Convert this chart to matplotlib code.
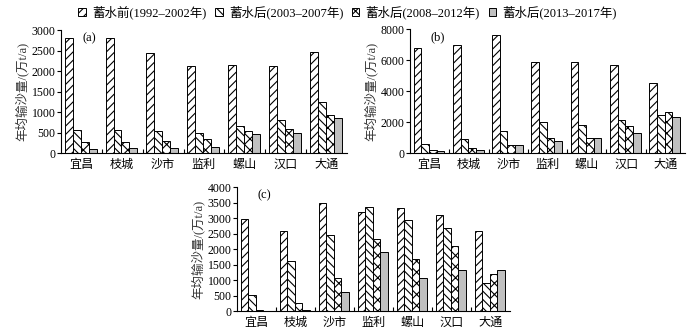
import numpy as np
import matplotlib
matplotlib.use('Agg')
from matplotlib import pyplot as plt
from matplotlib.patches import Patch

plt.rcParams['font.family'] = ['Liberation Serif', 'Noto Sans CJK SC']
plt.rcParams['hatch.linewidth'] = 0.8

# 数据
stations = ['宜昌', '枝城', '沙市', '监利', '螺山', '汉口', '大通']
periods = ['蓄水前(1992–2002年)', '蓄水后(2003–2007年)', '蓄水后(2008–2012年)', '蓄水后(2013–2017年)']

a_pre = [2800, 2810, 2450, 2130, 2160, 2130, 2470]
a_0307 = [560, 570, 540, 480, 660, 810, 1250]
a_0812 = [270, 280, 300, 330, 530, 590, 930]
a_1317 = [100, 110, 130, 140, 470, 480, 850]

b_pre = [6750, 7000, 7600, 5850, 5850, 5650, 4550]
b_0307 = [550, 900, 1450, 2000, 1800, 2150, 2450]
b_0812 = [200, 350, 500, 950, 950, 1750, 2650]
b_1317 = [100, 200, 500, 750, 1000, 1300, 2300]

c_pre = [2980, 2600, 3480, 3220, 3350, 3120, 2600]
c_0307 = [530, 1620, 2470, 3360, 2950, 2700, 900]
c_0812 = [50, 280, 1060, 2330, 1700, 2120, 1200]
c_1317 = [20, 50, 620, 1920, 1080, 1320, 1340]

hatches = ['////', '\\\\\\\\', 'xxx', '']
faces = ['white', 'white', 'white', '#c0c0c0']

fig = plt.figure(figsize=(6.95, 3.34), dpi=100)


def panel(rect, series, ymax, ystep, tag):
    ax = fig.add_axes(rect)
    x = np.arange(len(stations))
    w = 0.195
    for k, vals in enumerate(series):
        ax.bar(x - 1.5 * w + k * w - 0.02, vals, w, color=faces[k], edgecolor='black',
               hatch=hatches[k], linewidth=0.7)
    ax.set_xlim(-0.5, len(stations) - 0.5)
    ax.set_ylim(0, ymax)
    ax.set_yticks(np.arange(0, ymax + 1, ystep))
    ax.set_xticks(x)
    ax.set_xticklabels(stations, fontsize=8.7)
    ax.set_xticks(np.arange(0.5, len(stations) - 0.5), minor=True)
    ax.tick_params(axis='x', which='major', length=0, pad=4)
    ax.tick_params(axis='x', which='minor', direction='in', length=3, width=0.8)
    ax.tick_params(axis='y', direction='out', length=3, width=0.8, labelsize=8.5, pad=1)
    for s in ['top', 'right']:
        ax.spines[s].set_visible(False)
    for s in ['left', 'bottom']:
        ax.spines[s].set_linewidth(0.8)
    ax.set_ylabel('年均输沙量/(万t/a)', fontsize=9, color='#333333', labelpad=2)
    ax.text(0.075, 0.985, tag, transform=ax.transAxes, fontsize=9, va='top')
    return ax


panel([0.0878, 0.5419, 0.4115, 0.368], [a_pre, a_0307, a_0812, a_1317], 3000, 500, '(a)')
panel([0.590, 0.5419, 0.3957, 0.371], [b_pre, b_0307, b_0812, b_1317], 8000, 2000, '(b)')
panel([0.341, 0.068, 0.3928, 0.371], [c_pre, c_0307, c_0812, c_1317], 4000, 500, '(c)')

handles = [Patch(facecolor=faces[k], edgecolor='black', hatch=hatches[k], linewidth=0.7)
           for k in range(4)]
fig.legend(handles, periods, loc='center', bbox_to_anchor=(0.5, 0.963), ncol=4,
           frameon=False, fontsize=9, handlelength=0.6, handleheight=0.6,
           handletextpad=0.5, columnspacing=0.7, borderaxespad=0)

plt.savefig('out.png', dpi=100)
